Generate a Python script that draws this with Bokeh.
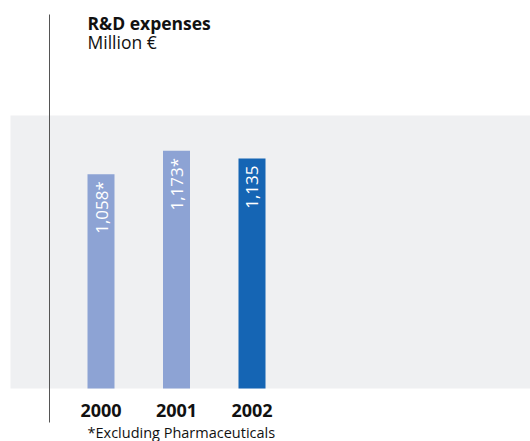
import math
from bokeh.plotting import figure
from bokeh.models import Label, BoxAnnotation
from bokeh.core.properties import value
from bokeh.embed import file_html
from bokeh.resources import INLINE

# ---- data ----
years = ["2000", "2001", "2002"]
expenses = [1058, 1173, 1135]
value_labels = ["1,058*", "1,173*", "1,135"]
bar_colors = ["#8DA3D4", "#8DA3D4", "#1565B4"]
title = "R&D expenses"
unit = "Million €"
footnote = "*Excluding Pharmaceuticals"

W, H = 530, 441
FONT = "Open Sans"

# scale: 1 category step = 75.5 px, first bar centre at 100.5 px; baseline 53 px from bottom
px_per_cat = 75.5
units_per_px = 4.936
x0_px = 100.5
base_px = 53

x_start = -x0_px / px_per_cat
x_end = (W - x0_px) / px_per_cat
y_start = -base_px * units_per_px
y_end = (H - base_px) * units_per_px

p = figure(width=W, height=H, x_range=(x_start, x_end), y_range=(y_start, y_end),
           x_axis_type=None, y_axis_type=None, toolbar_location=None,
           output_backend="svg", min_border=0)
p.outline_line_color = None
p.grid.visible = False
p.background_fill_color = "white"
p.border_fill_color = "white"

# gray plotting band
band_top = 1347
p.add_layout(BoxAnnotation(left=10, left_units="screen", right=W, right_units="screen",
                           bottom=0, top=band_top, fill_color="#EFF0F2", fill_alpha=1,
                           line_color=None, level="underlay"))

# vertical rule
xl = (49 - x0_px) / px_per_cat
p.segment(x0=[xl], x1=[xl], y0=[(19 - base_px) * units_per_px], y1=[(427 - base_px) * units_per_px],
          line_color="#555555", line_width=1)

xs = list(range(len(years)))
p.vbar(x=xs, top=expenses, bottom=0, width=27 / px_per_cat, fill_color=bar_colors, line_color=None)

label_y = [v - 7 * units_per_px for v in expenses]
p.text(x=xs, y=label_y, text=value_labels, angle=math.pi / 2, text_align="right",
       text_baseline="middle", text_color="white", text_font=value(FONT),
       text_font_size="17px")

for i, yr in enumerate(years):
    p.add_layout(Label(x=i, y=31, x_units="data", y_units="screen", text=yr,
                       text_align="center", text_baseline="middle", text_font=FONT,
                       text_font_size="18px", text_font_style="bold", text_color="#111111"))

p.add_layout(Label(x=87, y=419, x_units="screen", y_units="screen", text=title,
                   text_baseline="middle", text_font=FONT, text_font_size="17.5px",
                   text_font_style="bold", text_color="#111111"))
p.add_layout(Label(x=87, y=400, x_units="screen", y_units="screen", text=unit,
                   text_baseline="middle", text_font=FONT, text_font_size="17.5px",
                   text_color="#111111"))
p.add_layout(Label(x=87, y=9.5, x_units="screen", y_units="screen", text=footnote,
                   text_baseline="middle", text_font=FONT, text_font_size="14.5px",
                   text_color="#111111"))

open("out.html", "w").write(file_html(p, INLINE))
